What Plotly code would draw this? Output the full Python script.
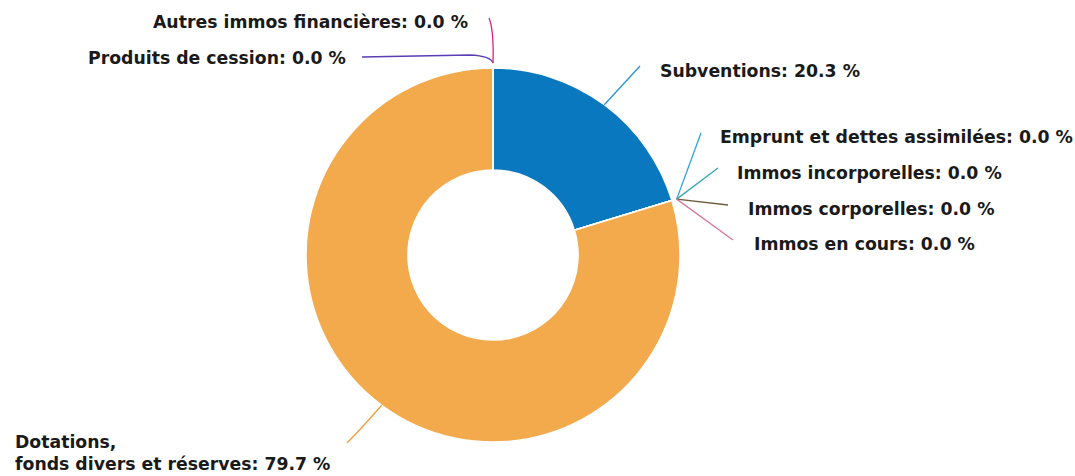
import math
import plotly.graph_objects as go

# ---- data ----
labels = [
    "Subventions",
    "Emprunt et dettes assimilées",
    "Immos incorporelles",
    "Immos corporelles",
    "Immos en cours",
    "Dotations,<br>fonds divers et réserves",
    "Produits de cession",
    "Autres immos financières",
]
values = [20.3, 0.0, 0.0, 0.0, 0.0, 79.7, 0.0, 0.0]
colors = ["#0a78bf", "#2fa3dc", "#35a6b4", "#6e5a3c", "#d6799a", "#f2aa4c", "#5b3db4", "#e0207a"]
line_colors = ["#2a92d8", "#2fa3dc", "#35a6b4", "#6e5a3c", "#d6799a", "#eea040", "#5b3db4", "#e0207a"]

# ---- layout constants (pixels) ----
W, H = 1075, 476
CX, CY, R = 493, 255, 187
HOLE = 0.455

# label anchor (x, y, xanchor) and leader-line path after the slice edge
label_pos = [
    (658, 71, "left"),
    (718, 137, "left"),
    (735, 173, "left"),
    (746, 209, "left"),
    (752, 244, "left"),
    (13, 453, "left"),
    (348, 58, "right"),
    (470, 22, "right"),
]
leader_end = [
    [(640, 66)],
    [(701, 133)],
    [(718, 168)],
    [(728, 205)],
    [(733, 240)],
    [(360, 430), (347, 443)],
    [(491, 56), (470, 55), (362, 57)],
    [(494, 30), (489, 18)],
]


def px(x):
    return x / W


def py(y):
    return 1 - y / H


fig = go.Figure()
fig.add_trace(go.Pie(
    labels=labels,
    values=values,
    marker=dict(colors=colors, line=dict(color="white", width=1.5)),
    hole=HOLE,
    sort=False,
    direction="clockwise",
    rotation=0,
    textinfo="none",
    hoverinfo="label+percent",
    showlegend=False,
    domain=dict(x=[px(CX - R), px(CX + R)], y=[py(CY + R), py(CY - R)]),
))

total = sum(values)
cum = 0.0
shapes = []
annotations = []
for i, (lab, v) in enumerate(zip(labels, values)):
    mid = (cum + v / 2) / total * 2 * math.pi
    cum += v
    rr = R + (0 if v > 0 else 5)
    sx = CX + rr * math.sin(mid)
    sy = CY - rr * math.cos(mid)
    pts = leader_end[i]
    if len(pts) == 1:
        path = f"M {px(sx)},{py(sy)} L {px(pts[0][0])},{py(pts[0][1])}"
    elif len(pts) == 2:
        path = (f"M {px(sx)},{py(sy)} Q {px(pts[0][0])},{py(pts[0][1])} "
                f"{px(pts[1][0])},{py(pts[1][1])}")
    else:
        path = (f"M {px(sx)},{py(sy)} Q {px(pts[0][0])},{py(pts[0][1])} "
                f"{px(pts[1][0])},{py(pts[1][1])} L {px(pts[2][0])},{py(pts[2][1])}")
    shapes.append(dict(type="path", xref="paper", yref="paper", path=path,
                       line=dict(color=line_colors[i], width=1.3)))
    lx, ly, anc = label_pos[i]
    pct = v / total * 100
    annotations.append(dict(
        xref="paper", yref="paper", x=px(lx), y=py(ly),
        xanchor=anc, yanchor="middle", align="left",
        text=f"{lab}: {pct:.1f} %", showarrow=False,
        font=dict(family="DejaVu Sans", size=17.3, color="#1a1a1a", weight="bold"),
    ))

fig.update_layout(
    width=W, height=H,
    margin=dict(l=0, r=0, t=0, b=0),
    paper_bgcolor="white", plot_bgcolor="white",
    shapes=shapes, annotations=annotations,
)
fig.write_html(
    "out.html",
    config={"displayModeBar": False},
    post_script="document.body.style.margin='0px';document.body.style.overflow='hidden';",
)
